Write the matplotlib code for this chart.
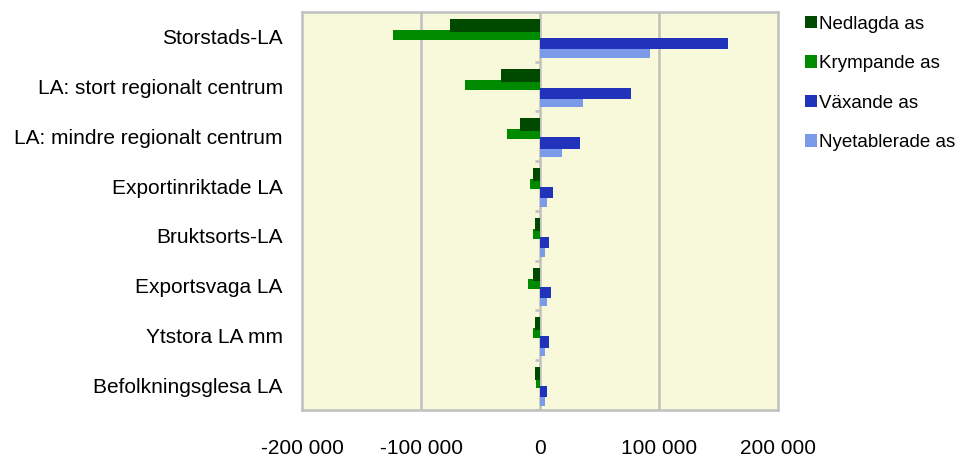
import numpy as np
import matplotlib.pyplot as plt
from matplotlib.ticker import FuncFormatter

plt.rcParams['font.family'] = ['Liberation Sans', 'DejaVu Sans']

categories = ["Storstads-LA", "LA: stort regionalt centrum", "LA: mindre regionalt centrum",
              "Exportinriktade LA", "Bruktsorts-LA", "Exportsvaga LA", "Ytstora LA mm",
              "Befolkningsglesa LA"]
nedlagda = [-75500, -32700, -16800, -6200, -4500, -6200, -4500, -4500]
krympande = [-123300, -62900, -27700, -8100, -6200, -9800, -6200, -3800]
vaxande = [157700, 76300, 33600, 11200, 7800, 9500, 7800, 6100]
nyetablerade = [92300, 36000, 18500, 5800, 4200, 6100, 4400, 4000]
xticks = [-200000, -100000, 0, 100000, 200000]

fig = plt.figure(figsize=(9.56, 4.59), dpi=100)
ax = fig.add_axes([0.316, 0.107, 0.498, 0.867])
ax.set_facecolor('#F8F8DA')

y = np.arange(len(categories))
# (top offset, bottom offset) within each category band, band spans i-0.5..i+0.5
series = [
    ("Nyetablerade as", nyetablerade, '#7B9BE8', 0.74, 0.92),
    ("Växande as", vaxande, '#2233BB', 0.52, 0.75),
    ("Krympande as", krympande, '#008A00', 0.36, 0.56),
    ("Nedlagda as", nedlagda, '#004A00', 0.14, 0.40),
]
handles = {}
for name, vals, col, t, b in series:
    h = b - t
    centers = y - 0.5 + t + h / 2
    bars = ax.barh(centers, vals, height=h, color=col, zorder=3)
    handles[name] = bars

ax.set_xlim(-200000, 200000)
ax.set_ylim(len(categories) - 0.5, -0.5)
ax.set_xticks(xticks)
ax.xaxis.set_major_formatter(FuncFormatter(lambda v, p: f"{int(v):,}".replace(",", " ")))
ax.set_yticks(y)
ax.set_yticklabels(categories)
ax.tick_params(axis='y', length=0, pad=14, labelsize=15)
ax.tick_params(axis='x', length=0, pad=21, labelsize=15)

for xv in [-100000, 100000]:
    ax.axvline(xv, color='#C0C0C0', lw=1.8, zorder=1)
ax.axvline(0, color='#C0C0C0', lw=1.8, zorder=2)
ax.hlines(np.arange(len(categories) + 1) - 0.5, -4000, 0, color='#C0C0C0', lw=1.8, zorder=2)
for s in ax.spines.values():
    s.set_color('#C0C0C0')
    s.set_linewidth(1.8)

order = ["Nedlagda as", "Krympande as", "Växande as", "Nyetablerade as"]
fig.legend([handles[n] for n in order], order, loc='upper left',
           bbox_to_anchor=(0.834, 0.982), frameon=False, fontsize=13.5,
           handlelength=0.65, handleheight=0.65, handletextpad=0.12,
           labelspacing=1.2, borderaxespad=0)

fig.savefig("out.png", dpi=100)
